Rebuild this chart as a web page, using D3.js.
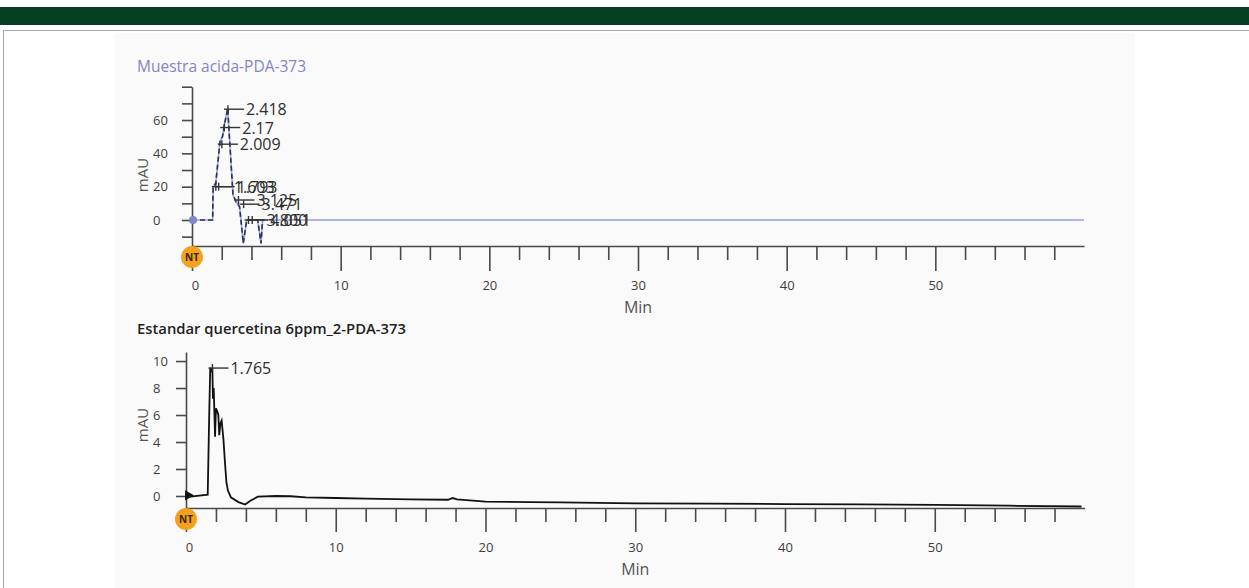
<!DOCTYPE html>
<html>
<head>
<meta charset="utf-8">
<script src="https://cdn.jsdelivr.net/npm/d3@7/dist/d3.min.js"></script>
<style>
  body { margin: 0; background: #fff; }
  text { font-family: "Open Sans", "Noto Sans", sans-serif; }
</style>
</head>
<body>
<svg id="chart" width="1249" height="588"></svg>
<script>
// Muestra acida (top trace), time in min, signal in mAU
var acidTimes  = [0, 1.39, 1.42, 1.6, 1.88, 2.05, 2.2, 2.40, 2.55, 2.76, 2.96, 3.2, 3.45, 3.68, 4.42, 4.64, 4.75, 60];
var acidValues = [0, 0,    20,   22,  47,   50,   58,  67,   45,   15,   11,   8,   -14,  0,    0,    -14,  0,    0];

var acidPeakTimes   = [1.603, 1.793, 2.009, 2.17, 2.418, 3.125, 3.471, 3.800, 4.051];
var acidPeakHeights = [20, 20, 45.5, 55.5, 66.5, 12, 9.5, 0, 0];
var acidPeakLabels  = ["1.603", "1.793", "2.009", "2.17", "2.418", "3.125", "3.471", "3.800", "4.051"];

// Estandar quercetina (bottom trace)
var stdTimes  = [0, 0.3, 1.45, 1.55, 1.62, 1.7, 1.76, 1.8, 1.85, 1.9, 1.94, 2.0, 2.08, 2.16, 2.22, 2.3, 2.38, 2.5, 2.6, 2.7, 2.8, 3.0, 3.5, 3.95, 4.3, 4.8, 6, 7, 8, 10, 12, 15, 17.5, 17.8, 18.1, 20, 23, 25, 30, 35, 40, 45, 50, 55, 59.8];
var stdValues = [0.05, -0.05, 0.1, 6, 9.5, 9.3, 9.48, 7.2, 8.0, 6.0, 4.4, 6.5, 6.3, 6.0, 4.5, 5.4, 5.6, 4.2, 2.5, 1.0, 0.4, -0.1, -0.45, -0.63, -0.35, -0.05, 0, -0.02, -0.1, -0.15, -0.2, -0.25, -0.28, -0.15, -0.25, -0.42, -0.45, -0.48, -0.55, -0.57, -0.6, -0.62, -0.66, -0.72, -0.78];

var stdPeakTimes   = [1.765];
var stdPeakHeights = [9.48];
var stdPeakLabels  = ["1.765"];

var xMajorTicks = [0, 10, 20, 30, 40, 50];
var xMinorTicks = [2, 4, 6, 8, 12, 14, 16, 18, 22, 24, 26, 28, 32, 34, 36, 38, 42, 44, 46, 48, 52, 54, 56, 58];
var acidYTicks  = [-10, 0, 10, 20, 30, 40, 50, 60, 70, 80];
var acidYLabels = [0, 20, 40, 60];
var stdYTicks   = [0, 2, 4, 6, 8, 10];
var stdYLabels  = [0, 2, 4, 6, 8, 10];

var svg = d3.select("#chart");

// page frame
svg.append("rect").attr("x", 0).attr("y", 7).attr("width", 1249).attr("height", 18).attr("fill", "#033f20");
svg.append("line").attr("x1", 3).attr("x2", 1249).attr("y1", 30.5).attr("y2", 30.5).attr("stroke", "#a8a8a8");
svg.append("line").attr("x1", 3.5).attr("x2", 3.5).attr("y1", 30).attr("y2", 588).attr("stroke", "#a8a8a8");
svg.append("rect").attr("x", 115).attr("y", 33).attr("width", 1020).attr("height", 555).attr("fill", "#fafafa");

function drawPanel(p) {
    var x = d3.scaleLinear().domain([0, 60]).range([p.x0, p.x1]);
    var y = d3.scaleLinear().domain(p.yDomain).range([p.yBottom, p.yTop]);
    var g = svg.append("g");

    // title
    g.append("text").attr("x", 137).attr("y", p.titleY)
        .attr("font-size", p.titleSize).attr("font-weight", p.titleWeight)
        .attr("fill", p.titleColor).text(p.title);

    // x axis: minor then major ticks
    var xMinor = g.append("g").attr("transform", "translate(0," + p.yBottom + ")")
        .call(d3.axisBottom(x).tickValues(xMinorTicks).tickSize(14).tickSizeOuter(0).tickFormat(""));
    var xMajor = g.append("g").attr("transform", "translate(0," + p.yBottom + ")")
        .call(d3.axisBottom(x).tickValues(xMajorTicks).tickSize(p.majorTick).tickSizeOuter(0).tickPadding(p.labelPad));
    xMajor.select(".domain").remove();
    xMajor.selectAll("text").attr("dx", function(d) { return d === 0 ? 3 : 0; });

    // y axis
    var yAxis = g.append("g").attr("transform", "translate(" + p.x0 + ",0)")
        .call(d3.axisLeft(y).tickValues(p.yTicks).tickSize(10).tickSizeOuter(0)
            .tickFormat(function(d) { return p.yLabels.indexOf(d) >= 0 ? d : ""; }));
    yAxis.selectAll("text").attr("text-anchor", "start").attr("x", 153 - p.x0);

    [xMinor, xMajor, yAxis].forEach(function(a) {
        a.selectAll("path, line").attr("stroke", "#4a4a4a").attr("stroke-width", 1.6);
        a.selectAll("text").attr("fill", "#3d3d3d").attr("font-size", 13)
            .attr("font-family", "'Open Sans', sans-serif");
    });

    // axis titles
    g.append("text").attr("x", x(30)).attr("y", p.yBottom + p.minOffset)
        .attr("text-anchor", "middle").attr("font-size", 16).attr("fill", "#555").text("Min");
    g.append("text").attr("transform", "translate(" + 148 + "," + p.mauY + ") rotate(-90)")
        .attr("text-anchor", "middle").attr("font-size", 15).attr("fill", "#555").text("mAU");

    // traces
    var line = d3.line().x(function(d) { return x(d[0]); }).y(function(d) { return y(d[1]); });
    var pts = d3.zip(p.times, p.values);
    if (p.dashed) {
        g.append("path").datum(pts).attr("d", line).attr("fill", "none")
            .attr("stroke", "#9ca2da").attr("stroke-width", 1.6);
        g.append("path").datum(pts.filter(function(d) { return d[0] < 5; })).attr("d", line)
            .attr("fill", "none").attr("stroke", "#2b3061").attr("stroke-width", 1.6)
            .attr("stroke-dasharray", "5,3");
        g.append("circle").attr("cx", x(0) + 1).attr("cy", y(0)).attr("r", 4).attr("fill", "#7e86d0");
    } else {
        g.append("path").datum(pts).attr("d", line).attr("fill", "none")
            .attr("stroke", "#111").attr("stroke-width", 1.8);
        g.append("path").attr("d", d3.symbol(d3.symbolTriangle, 45)())
            .attr("transform", "translate(" + (x(0) + 2) + "," + y(0.05) + ") rotate(90)")
            .attr("fill", "#111");
    }

    // peak annotations (overlapping labels as in the source software)
    p.peakTimes.forEach(function(t, i) {
        var px = x(t), py = y(p.peakHeights[i]);
        g.append("line").attr("x1", px - 4).attr("x2", px + 16).attr("y1", py).attr("y2", py)
            .attr("stroke", "#333").attr("stroke-width", 1.4);
        g.append("line").attr("x1", px).attr("x2", px).attr("y1", py - 4).attr("y2", py + 4)
            .attr("stroke", "#333").attr("stroke-width", 1.4);
        g.append("text").attr("x", px + 18).attr("y", py + 6)
            .attr("font-size", 16).attr("fill", "#2e2e2e").text(p.peakLabels[i]);
    });

    // NT marker
    g.append("circle").attr("cx", x(0)).attr("cy", p.yBottom + 11).attr("r", 11).attr("fill", "#f2a21c");
    g.append("text").attr("x", x(0)).attr("y", p.yBottom + 15).attr("text-anchor", "middle")
        .attr("font-size", 10).attr("font-weight", "bold").attr("fill", "#3a2500").text("NT");
}

drawPanel({
    title: "Muestra acida-PDA-373", titleY: 72, titleSize: 15.5, titleWeight: "normal", titleColor: "#7f86c6",
    x0: 192, x1: 1084, yDomain: [-15.6, 80], yBottom: 246, yTop: 86.7,
    yTicks: acidYTicks, yLabels: acidYLabels, majorTick: 25, labelPad: 10, minOffset: 67, mauY: 175,
    times: acidTimes, values: acidValues, dashed: true,
    peakTimes: acidPeakTimes, peakHeights: acidPeakHeights, peakLabels: acidPeakLabels
});

drawPanel({
    title: "Estandar quercetina 6ppm_2-PDA-373", titleY: 334, titleSize: 14.8, titleWeight: 600, titleColor: "#1e1e1e",
    x0: 186, x1: 1084.5, yDomain: [-0.89, 10.67], yBottom: 508, yTop: 352,
    yTicks: stdYTicks, yLabels: stdYLabels, majorTick: 24, labelPad: 11, minOffset: 67, mauY: 425,
    times: stdTimes, values: stdValues, dashed: false,
    peakTimes: stdPeakTimes, peakHeights: stdPeakHeights, peakLabels: stdPeakLabels
});
</script>
</body>
</html>
